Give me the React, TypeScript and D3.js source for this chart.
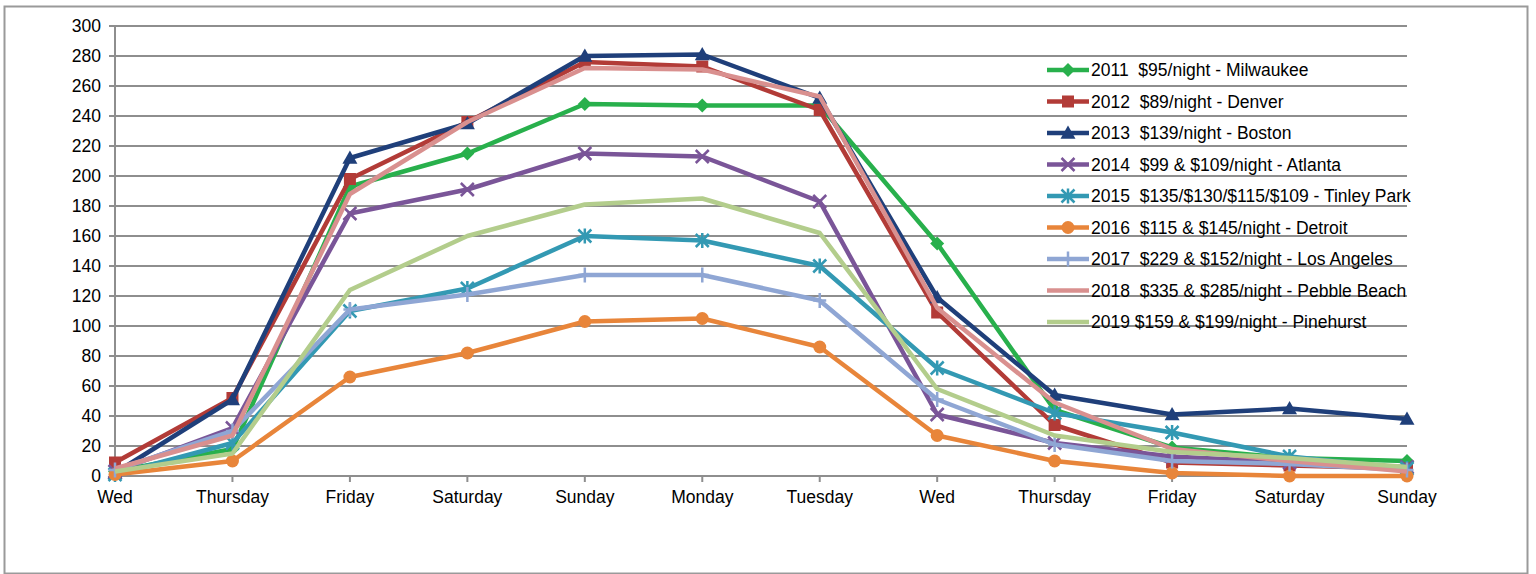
import * as d3 from "d3";

const days = ["Wed", "Thursday", "Friday", "Saturday", "Sunday", "Monday", "Tuesday", "Wed", "Thursday", "Friday", "Saturday", "Sunday"];
const yTicks = d3.range(0, 301, 20);

const labels = [
  "2011  $95/night - Milwaukee",
  "2012  $89/night - Denver",
  "2013  $139/night - Boston",
  "2014  $99 & $109/night - Atlanta",
  "2015  $135/$130/$115/$109 - Tinley Park",
  "2016  $115 & $145/night - Detroit",
  "2017  $229 & $152/night - Los Angeles",
  "2018  $335 & $285/night - Pebble Beach",
  "2019 $159 & $199/night - Pinehurst",
];

const milwaukee = [3, 18, 193, 215, 248, 247, 247, 155, 44, 19, 12, 10];
const denver = [9, 52, 198, 236, 276, 273, 244, 109, 34, 9, 7, 5];
const boston = [2, 51, 212, 235, 280, 281, 252, 119, 54, 41, 45, 38];
const atlanta = [3, 32, 175, 191, 215, 213, 183, 41, 22, 13, 9, 6];
const tinley = [1, 22, 110, 125, 160, 157, 140, 72, 42, 29, 13, 5];
const detroit = [1, 10, 66, 82, 103, 105, 86, 27, 10, 2, 0, 0];
const losAngeles = [4, 30, 111, 121, 134, 134, 117, 51, 21, 10, 8, 4];
const pebble = [5, 27, 188, 236, 272, 271, 253, 112, 49, 18, 10, 3];
const pinehurst = [3, 15, 124, 160, 181, 185, 162, 58, 27, 16, 12, 6];

const seriesValues = [milwaukee, denver, boston, atlanta, tinley, detroit, losAngeles, pebble, pinehurst];
const colors = ["#28b04c", "#b23b37", "#1f3f7a", "#7a5598", "#3399b3", "#e8853a", "#8fa6d4", "#d9908f", "#b3cd8c"];
const markers = ["diamond", "square", "triangle", "x", "asterisk", "circle", "plus", "none", "none"];

const W = 1536;
const H = 574;
const left = 115;
const right = 1407;
const top = 26;
const bottom = 476;

function Marker({ kind, x, y, color }: { kind: string; x: number; y: number; color: string }) {
  if (kind === "diamond") {
    const s = 7;
    return <path d={`M${x},${y - s}L${x + s},${y}L${x},${y + s}L${x - s},${y}Z`} fill={color} />;
  }
  if (kind === "square") return <rect x={x - 6} y={y - 6} width={12} height={12} fill={color} />;
  if (kind === "triangle") {
    const s = 7.5;
    return <path d={`M${x},${y - s}L${x + s},${y + s * 0.75}L${x - s},${y + s * 0.75}Z`} fill={color} />;
  }
  if (kind === "circle") return <circle cx={x} cy={y} r={6.5} fill={color} />;
  const s = 6.5;
  let d = "";
  if (kind === "x" || kind === "asterisk") d += `M${x - s},${y - s}L${x + s},${y + s}M${x - s},${y + s}L${x + s},${y - s}`;
  if (kind === "asterisk") d += `M${x},${y - s - 1}L${x},${y + s + 1}`;
  if (kind === "plus") d += `M${x},${y - s - 1}L${x},${y + s + 1}M${x - s},${y}L${x + s},${y}`;
  if (!d) return null;
  return <path d={d} stroke={color} strokeWidth={2.5} fill="none" />;
}

export default function App() {
  const x = d3.scalePoint<number>().domain(d3.range(days.length)).range([left, right]);
  const y = d3.scaleLinear().domain([0, 300]).range([bottom, top]);
  const line = d3
    .line<number>()
    .x((_, i) => x(i)!)
    .y((d) => y(d));

  const font = "'Liberation Sans', Arial, sans-serif";
  const fs = 17.5;
  const legendX = 1047;
  const legendY0 = 70;
  const legendStep = 31.5;

  return (
    <svg width={W} height={H} style={{ position: "absolute", left: 0, top: 0 }} fontFamily={font}>
      <rect x={0} y={0} width={W} height={H} fill="#fff" />
      <rect x={4.5} y={6.5} width={1523} height={567} fill="none" stroke="#9a9a9a" strokeWidth={2} />

      {/* grid + y axis */}
      {yTicks.map((t) => (
        <g key={t}>
          <line x1={109} x2={right} y1={y(t)} y2={y(t)} stroke="#8e8e8e" strokeWidth={2} />
          <text x={101} y={y(t)} dy="0.35em" textAnchor="end" fontSize={fs} fill="#000">
            {t}
          </text>
        </g>
      ))}
      <line x1={left} x2={left} y1={top} y2={bottom} stroke="#8e8e8e" strokeWidth={2} />
      {days.map((d, i) => (
        <g key={i}>
          <line x1={x(i)} x2={x(i)} y1={bottom} y2={bottom + 6} stroke="#8e8e8e" strokeWidth={2} />
          <text x={x(i)} y={bottom + 27} textAnchor="middle" fontSize={fs} fill="#000">
            {d}
          </text>
        </g>
      ))}

      {/* legend */}
      {labels.map((lab, k) => {
        const ly = legendY0 + k * legendStep;
        return (
          <g key={lab}>
            <line x1={legendX} x2={legendX + 42} y1={ly} y2={ly} stroke={colors[k]} strokeWidth={4.5} />
            <Marker kind={markers[k]} x={legendX + 21} y={ly} color={colors[k]} />
            <text x={legendX + 44} y={ly} dy="0.35em" fontSize={fs} fill="#000" style={{ whiteSpace: "pre" }}>
              {lab}
            </text>
          </g>
        );
      })}

      {/* series */}
      {seriesValues.map((vals, k) => (
        <g key={k}>
          <path d={line(vals) as string} fill="none" stroke={colors[k]} strokeWidth={4.5} strokeLinejoin="round" />
          {vals.map((v, i) => (
            <Marker key={i} kind={markers[k]} x={x(i)!} y={y(v)} color={colors[k]} />
          ))}
        </g>
      ))}
    </svg>
  );
}
